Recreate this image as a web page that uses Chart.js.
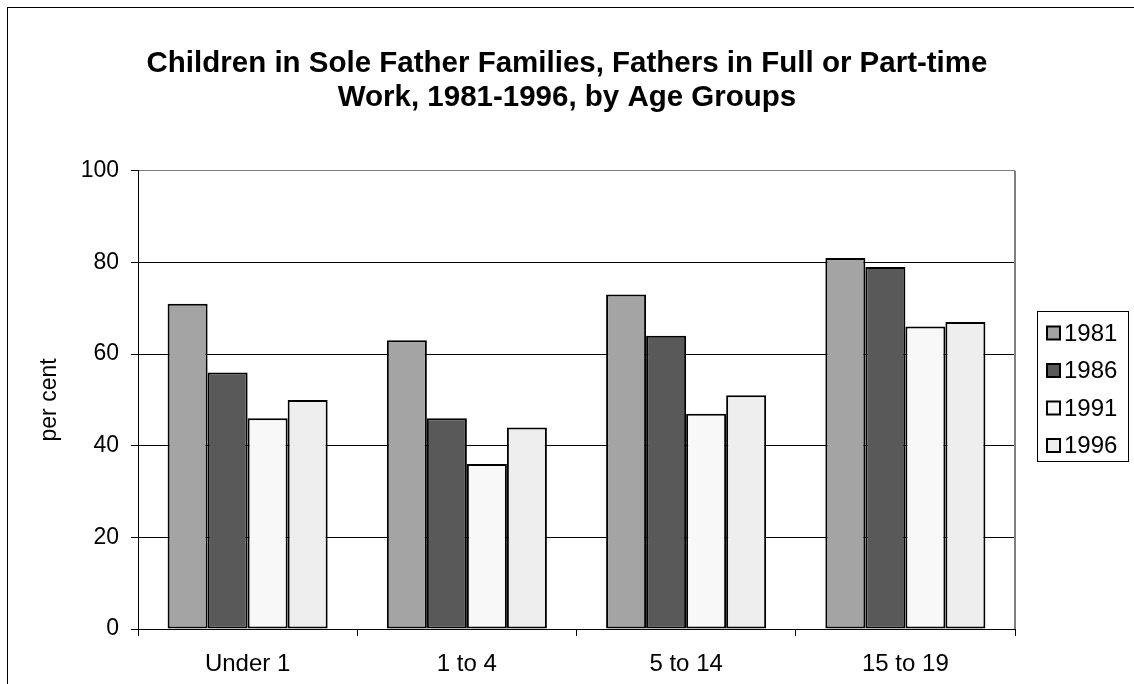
<!DOCTYPE html>
<html>
<head>
<meta charset="utf-8">
<script src="https://cdn.jsdelivr.net/npm/chart.js@4.4.0/dist/chart.umd.min.js"></script>
<style>
  html, body { margin: 0; padding: 0; background: #fff; }
  canvas { display: block; }
</style>
</head>
<body>
<canvas id="chart" width="1134" height="684"></canvas>
<script>
// Age groups along the category axis
const categories = ['Under 1', '1 to 4', '5 to 14', '15 to 19'];
// Census years, one bar series each
const years = ['1981', '1986', '1991', '1996'];
// Per cent of children whose sole father works full or part time
const values1981 = [71, 63, 73, 81];
const values1986 = [56, 46, 64, 79];
const values1991 = [46, 36, 47, 66];
const values1996 = [50, 44, 51, 67];
// Value axis tick labels
const yTicks = [0, 20, 40, 60, 80, 100];

const titleLines = [
  'Children in Sole Father Families, Fathers in Full or Part-time',
  'Work, 1981-1996, by Age Groups'
];
const yTitle = 'per cent';

const seriesValues = [values1981, values1986, values1991, values1996];
const seriesFills = ['#a4a4a4', '#595959', '#f8f8f8', '#eeeeee'];

const FONT = "'Liberation Sans', Arial, Helvetica, sans-serif";
Chart.defaults.font.family = FONT;
Chart.defaults.color = '#000';

// Outer frame of the whole figure
const framePlugin = {
  id: 'frame',
  beforeDraw(chart) {
    const ctx = chart.ctx;
    ctx.save();
    ctx.fillStyle = '#fff';
    ctx.fillRect(0, 0, chart.width, chart.height);
    ctx.strokeStyle = '#000';
    ctx.lineWidth = 1;
    ctx.strokeRect(7.5, 7.5, chart.width - 2, chart.height + 20);
    ctx.restore();
  }
};

// Grey border on the right side of the plot area
const plotBorderPlugin = {
  id: 'plotBorder',
  beforeDatasetsDraw(chart) {
    const { ctx, chartArea } = chart;
    ctx.save();
    ctx.strokeStyle = '#808080';
    ctx.lineWidth = 2;
    ctx.beginPath();
    ctx.moveTo(chartArea.right, chartArea.top);
    ctx.lineTo(chartArea.right, chartArea.bottom);
    ctx.stroke();
    ctx.restore();
  }
};

// Boxed legend to the right of the plot
const boxedLegendPlugin = {
  id: 'boxedLegend',
  afterDraw(chart) {
    const ctx = chart.ctx;
    const x0 = 1037, y0 = 311, w = 91, h = 150;
    ctx.save();
    ctx.fillStyle = '#fff';
    ctx.fillRect(x0, y0, w, h);
    ctx.strokeStyle = '#000';
    ctx.lineWidth = 1;
    ctx.strokeRect(x0 + 0.5, y0 + 0.5, w, h);
    ctx.font = '24px ' + FONT;
    ctx.textBaseline = 'middle';
    ctx.textAlign = 'left';
    chart.data.datasets.forEach((ds, i) => {
      const cy = y0 + 22 + i * 37.5;
      const size = 13;
      ctx.fillStyle = ds.backgroundColor;
      ctx.fillRect(1047, cy - size / 2, size, size);
      ctx.strokeStyle = '#000';
      ctx.lineWidth = 2;
      ctx.strokeRect(1047, cy - size / 2, size, size);
      ctx.fillStyle = '#000';
      ctx.fillText(ds.label, 1064, cy + 1);
    });
    ctx.restore();
  }
};

new Chart(document.getElementById('chart'), {
  type: 'bar',
  data: {
    labels: categories,
    datasets: years.map((y, i) => ({
      label: y,
      data: seriesValues[i],
      backgroundColor: seriesFills[i],
      borderColor: '#000',
      borderWidth: 2,
      borderSkipped: false,
      categoryPercentage: 0.73,
      barPercentage: 1.0
    }))
  },
  options: {
    responsive: false,
    animation: false,
    devicePixelRatio: 1,
    layout: { padding: { left: 0, right: 0, top: 0, bottom: 0 } },
    plugins: {
      legend: { display: false },
      tooltip: { enabled: false },
      title: {
        display: true,
        text: titleLines,
        color: '#000',
        font: { family: FONT, size: 29.5, weight: 'bold', lineHeight: 1.15 },
        padding: { top: 47, bottom: 56 }
      }
    },
    scales: {
      x: {
        grid: {
          display: true,
          drawOnChartArea: false,
          drawTicks: true,
          tickLength: 7,
          offset: true,
          color: '#000',
          lineWidth: 1
        },
        border: { display: true, color: '#000', width: 1 },
        ticks: { color: '#000', font: { size: 24 }, padding: 14, maxRotation: 0, autoSkip: false },
        afterFit(scale) { scale.height = 55; }
      },
      y: {
        min: 0,
        max: 100,
        afterBuildTicks(scale) { scale.ticks = yTicks.map(v => ({ value: v })); },
        grid: {
          color: (c) => (c.tick && c.tick.value === 100 ? '#808080' : '#000'),
          tickColor: '#000',
          lineWidth: 1,
          tickLength: 7,
          drawTicks: true
        },
        border: { display: true, color: '#000', width: 1 },
        ticks: { color: '#000', font: { size: 23 }, padding: 12 },
        title: {
          display: true,
          text: yTitle,
          color: '#000',
          font: { size: 23 },
          padding: { top: 36, bottom: 0 }
        },
        afterFit(scale) { scale.width = 138; }
      },
      // Empty strip on the right that holds the legend
      legendSpace: {
        type: 'linear',
        position: 'right',
        display: true,
        grid: { display: false, drawTicks: false },
        border: { display: false },
        ticks: { display: false },
        afterFit(scale) { scale.width = 119; }
      }
    }
  },
  plugins: [framePlugin, plotBorderPlugin, boxedLegendPlugin]
});
</script>
</body>
</html>
